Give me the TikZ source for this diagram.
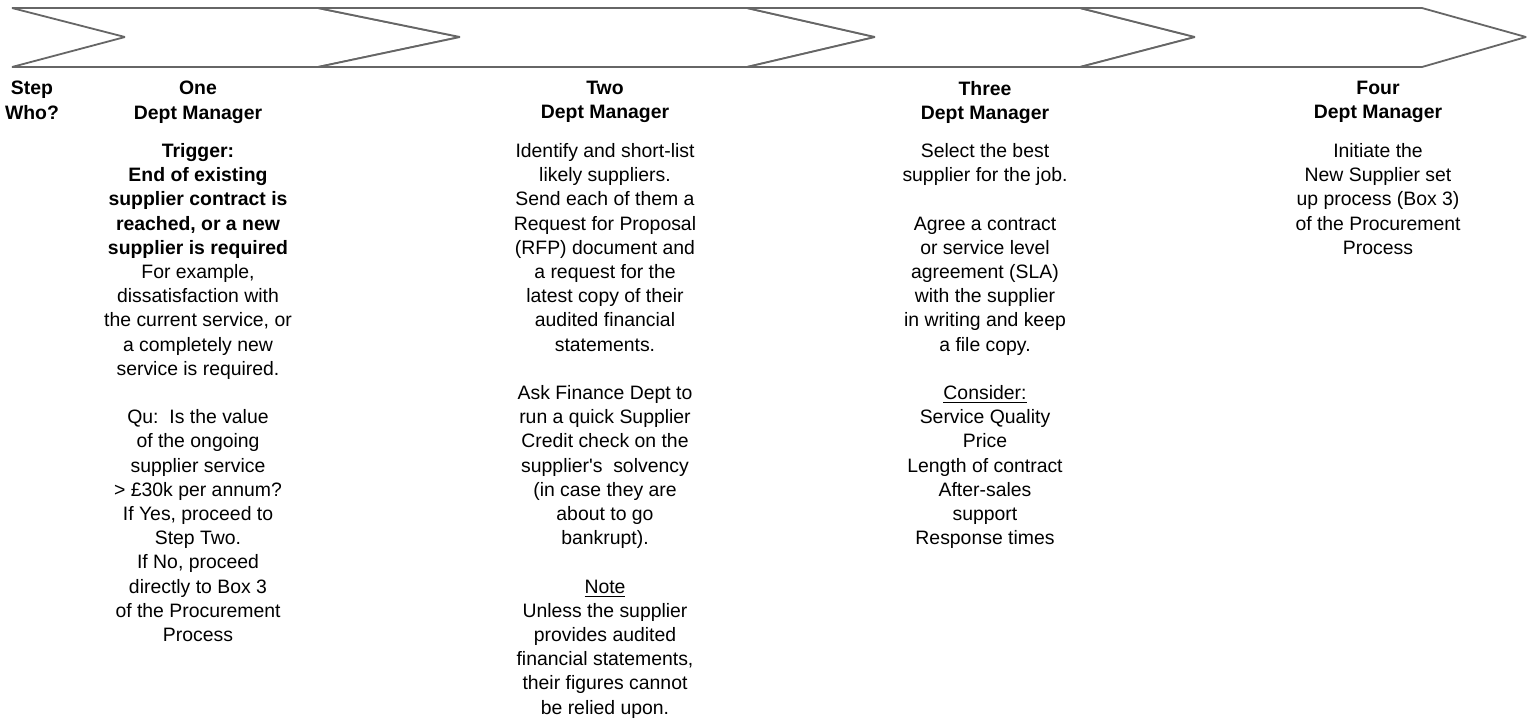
\documentclass[tikz,border=0pt]{standalone}
\usepackage{fontspec}
\setmainfont{Liberation Sans}
\usetikzlibrary{positioning}

\begin{document}
\begin{tikzpicture}[x=0.5pt,y=-0.5pt,
      head/.style={align=center,inner sep=0pt,anchor=north,font=\fontsize{9.7}{12.1}\selectfont\bfseries},
      body/.style={align=center,inner sep=0pt,anchor=north,font=\fontsize{9.7}{12.1}\selectfont},
      chev/.style={draw=black!60,line width=0.9pt,line join=bevel,fill=white}]
      \useasboundingbox (0,0) rectangle (1528,720);

      \draw[chev] (12,8) -- (318,8) -- (460,37) -- (318,67) -- (12,67) -- (125,37) -- cycle;
      \draw[chev] (318,8) -- (747,8) -- (875,37) -- (747,67) -- (318,67) -- (460,37) -- cycle;
      \draw[chev] (747,8) -- (1080,8) -- (1195,37) -- (1080,67) -- (747,67) -- (875,37) -- cycle;
      \draw[chev] (1080,8) -- (1422,8) -- (1526,37) -- (1422,67) -- (1080,67) -- (1195,37) -- cycle;

      \node[head] (who) at (32,81) {Step\\Who?};
      \node[head] (one) at (198,81) {One\\Dept Manager};
      \node[head] (two) at (605,81) {Two\\Dept Manager};
      \node[head] (three) at (985,81) {Three\\Dept Manager};
      \node[head] (four) at (1378,81) {Four\\Dept Manager};

      \node[body] (oneText) at (198,143) {\textbf{Trigger:}\\\textbf{End of existing}\\\textbf{supplier contract is}\\\textbf{reached, or a new}\\\textbf{supplier is required}\\For example,\\dissatisfaction with\\the current service, or\\a completely new\\service is required.\\[12.1pt]Qu:\ \ Is the value\\of the ongoing\\supplier service\\> £30k per annum?\\If Yes, proceed to\\Step Two.\\If No, proceed\\directly to Box 3\\of the Procurement\\Process};
      \node[body] (twoText) at (605,143) {Identify and short-list\\likely suppliers.\\Send each of them a\\Request for Proposal\\(RFP) document and\\a request for the\\latest copy of their\\audited financial\\statements.\\[12.1pt]Ask Finance Dept to\\run a quick Supplier\\Credit check on the\\supplier\textquotesingle s\ \ solvency\\(in case they are\\about to go\\bankrupt).\\[12.1pt]\underline{Note}\\Unless the supplier\\provides audited\\financial statements,\\their figures cannot\\be relied upon.};
      \node[body] (threeText) at (985,143) {Select the best\\supplier for the job.\\[12.1pt]Agree a contract\\or service level\\agreement (SLA)\\with the supplier\\in writing and keep\\a file copy.\\[12.1pt]\underline{Consider:}\\Service Quality\\Price\\Length of contract\\After-sales\\support\\Response times};
      \node[body] (fourText) at (1378,143) {Initiate the\\New Supplier set\\up process (Box 3)\\of the Procurement\\Process};

    \end{tikzpicture}
\end{document}
